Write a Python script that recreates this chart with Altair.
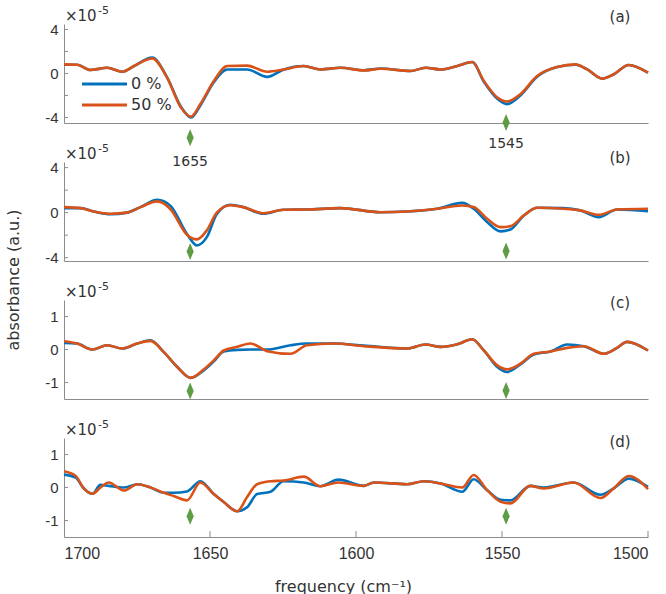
import altair as alt
import pandas as pd

# ---------------- data (absorbance in units of 1e-5) ----------------
x_a = [1700, 1695.5, 1691, 1685.2, 1680, 1676, 1669.8, 1664.7, 1660, 1656.5, 1653.3, 1648.7, 1644.1,
       1637.3, 1630.4, 1624.7, 1617.9, 1612.2, 1605.3, 1597.3, 1591.6, 1581.3, 1576.2, 1571, 1565.3,
       1560.2, 1556.2, 1551.6, 1548.2, 1543.7, 1538, 1531.1, 1524.8, 1520.8, 1515.7, 1511.7, 1506.6, 1500]
a_0 = [0.8, 0.8, 0.32, 0.52, 0.16, 0.68, 1.45, -0.35, -3.0, -4.0, -2.9, -0.8, 0.37, 0.37, -0.31, 0.37,
       0.68, 0.37, 0.52, 0.3, 0.45, 0.23, 0.52, 0.37, 0.68, 1.04, -0.75, -2.3, -2.78, -2.0, -0.3, 0.59,
       0.8, 0.37, -0.47, -0.07, 0.77, 0.07]
a_50 = [0.83, 0.8, 0.32, 0.52, 0.16, 0.68, 1.37, -0.38, -3.08, -3.92, -2.78, -0.68, 0.68, 0.72, 0.16,
        0.37, 0.68, 0.37, 0.52, 0.28, 0.43, 0.23, 0.52, 0.37, 0.68, 1.04, -0.68, -2.18, -2.54, -1.88,
        -0.23, 0.59, 0.83, 0.37, -0.47, -0.07, 0.77, 0.07]

x_b = [1700, 1694.3, 1689.8, 1684.1, 1678.4, 1673.8, 1668.1, 1663.5, 1657.9, 1654.5, 1651.1, 1647.7,
       1643.1, 1638.6, 1631.7, 1624.9, 1616.8, 1605.4, 1591.6, 1582.5, 1572.2, 1563.6, 1559.7, 1555.1,
       1550.5, 1547.1, 1542.5, 1538, 1528.9, 1523.2, 1516.9, 1510.6, 1500]
b_0 = [0.4, 0.4, 0.1, -0.15, 0.0, 0.49, 1.14, 0.6, -1.9, -2.92, -2.18, -0.15, 0.7, 0.49, -0.1, 0.25,
       0.28, 0.4, 0.04, 0.1, 0.34, 0.87, 0.34, -0.84, -1.67, -1.5, -0.25, 0.43, 0.4, 0.2, -0.4, 0.28, 0.13]
b_50 = [0.49, 0.4, 0.1, -0.1, 0.0, 0.49, 1.0, 0.3, -1.97, -2.38, -1.58, 0.0, 0.66, 0.49, -0.05, 0.25,
        0.28, 0.4, 0.04, 0.1, 0.34, 0.64, 0.49, -0.55, -1.29, -1.2, -0.25, 0.43, 0.34, 0.2, -0.2, 0.28, 0.34]

x_c = [1700, 1695.5, 1690.3, 1685.2, 1680.1, 1674.9, 1670.4, 1665.8, 1661.2, 1656.7, 1652.1, 1648.7,
       1645.3, 1640.7, 1636.1, 1630.4, 1622.4, 1616.8, 1607.6, 1597.3, 1582.5, 1576.2, 1571, 1565.3,
       1560.2, 1556.2, 1551.6, 1548.2, 1543.7, 1539.1, 1533.4, 1527.7, 1522, 1515.1, 1510.6, 1507.2, 1500]
c_0 = [0.2, 0.18, 0.0, 0.13, 0.03, 0.18, 0.28, -0.08, -0.53, -0.86, -0.63, -0.36, -0.06, -0.01, 0.0,
       0.0, 0.13, 0.18, 0.18, 0.12, 0.03, 0.15, 0.08, 0.16, 0.31, -0.03, -0.53, -0.68, -0.45, -0.15,
       -0.06, 0.15, 0.1, -0.13, 0.05, 0.23, -0.03]
c_50 = [0.25, 0.18, 0.0, 0.13, 0.03, 0.18, 0.26, -0.08, -0.53, -0.86, -0.6, -0.33, -0.03, 0.08, 0.18,
        -0.05, -0.13, 0.13, 0.18, 0.1, 0.03, 0.15, 0.08, 0.16, 0.31, -0.03, -0.48, -0.6, -0.43, -0.13,
        -0.06, 0.05, 0.1, -0.13, 0.05, 0.23, -0.03]

x_d = [1700, 1696, 1693.2, 1690.3, 1687.5, 1684.7, 1679.5, 1674.9, 1670.4, 1665.8, 1662.4, 1657.9,
       1653.3, 1648.8, 1645.3, 1640.7, 1637.3, 1633.9, 1629.3, 1624.8, 1617.9, 1612.2, 1606, 1597.3,
       1593.9, 1582.5, 1576.8, 1571, 1563.6, 1559.7, 1555.1, 1550.5, 1547.1, 1540.3, 1535.7, 1525.5,
       1516.3, 1511.8, 1506.6, 1500]
d_0 = [0.39, 0.3, -0.03, -0.19, 0.08, 0.05, 0.0, 0.1, 0.0, -0.16, -0.16, -0.12, 0.19, -0.19, -0.44,
       -0.72, -0.6, -0.2, -0.13, 0.19, 0.15, 0.04, 0.24, 0.05, 0.15, 0.1, 0.19, 0.12, -0.13, 0.25,
       -0.08, -0.37, -0.39, 0.05, 0.0, 0.15, -0.22, -0.03, 0.27, 0.02]
d_50 = [0.49, 0.35, -0.03, -0.19, 0.0, 0.15, -0.09, 0.1, 0.0, -0.16, -0.26, -0.39, 0.15, -0.19, -0.44,
        -0.72, -0.29, 0.1, 0.19, 0.21, 0.33, 0.04, 0.15, 0.05, 0.15, 0.1, 0.19, 0.12, 0.0, 0.38, -0.08,
        -0.43, -0.48, 0.05, -0.03, 0.15, -0.32, -0.03, 0.35, -0.05]

series = ["0 %", "50 %"]
colors = ["#0072BD", "#D95319"]
ticks_ab = [-4, -2, 0, 2, 4]
ticks_cd = [-1, 0, 1]
x_tick_labels = [1700, 1650, 1600, 1550, 1500]
x_tick_marks = [1650, 1600, 1550, 1500]
marker_freq = [1656.8, 1548.6]
marker_vals = [[-5.85, -4.45], [-3.45, -3.42], [-1.26, -1.24], [-0.87, -0.87]]
peak_labels = ["1655", "1545"]
peak_label_freq = [1656.8, 1548.6]
peak_label_vals = [-8.0, -6.45]
panel_tags = ["(a)", "(b)", "(c)", "(d)"]
tag_offsets = [-7, -4, 3, 4]
domains = [[-4.5, 4.5], [-4.3, 4.5], [-1.5, 1.5], [-1.5, 1.5]]

W, H = 584, 99
AX = "#8c8c8c"
TXT = "#333333"
FONT = "DejaVu Sans"
LFONT = "Liberation Sans"
GREEN = "#5f9c46"
DIAMOND = "M0,-1L0.42,0L0,1L-0.42,0Z"
LEG_ROWS = [60, 81]


def make_panel(i, xs, v0, v50, yvals, first=False, last=False):
    xscale = alt.Scale(domain=[1500, 1700], reverse=True, nice=False, zero=False)
    yscale = alt.Scale(domain=domains[i], nice=False, zero=False)
    if last:
        xaxis = alt.Axis(values=x_tick_labels, ticks=False, tickSize=0, labelPadding=8,
                         labelFontSize=16, labelExpr="'' + datum.value",
                         title="frequency (cm⁻¹)", titleFontSize=16,
                         titleFont=FONT, titleColor=TXT, titleFontWeight="normal",
                         titleX=279, titleY=54, titleBaseline="alphabetic", grid=False)
    else:
        xaxis = alt.Axis(labels=False, ticks=False, tickSize=0, title=None, grid=False)
    yaxis = alt.Axis(values=yvals, ticks=False, tickSize=0, labelPadding=6, labelFontSize=15,
                     title=None, grid=False, labelExpr="'' + datum.value")
    cscale = alt.Scale(domain=series, range=colors)

    layers = []
    for name, vals in zip(series, [v0, v50]):
        df = pd.DataFrame({"f": xs, "v": vals, "s": name})
        layers.append(
            alt.Chart(df).mark_line(strokeWidth=2.6, interpolate="monotone").encode(
                x=alt.X("f:Q", scale=xscale, axis=xaxis),
                y=alt.Y("v:Q", scale=yscale, axis=yaxis),
                color=alt.Color("s:N", scale=cscale, legend=None),
            )
        )
    layers.append(
        alt.Chart(pd.DataFrame({"v": yvals})).mark_rule(color=AX, strokeWidth=1).encode(
            y=alt.Y("v:Q", scale=yscale), x=alt.value(0), x2=alt.value(4)
        )
    )
    if last:
        layers.append(
            alt.Chart(pd.DataFrame({"f": x_tick_marks})).mark_rule(color=AX, strokeWidth=1).encode(
                x=alt.X("f:Q", scale=xscale), y=alt.value(H), y2=alt.value(H - 6)
            )
        )
    layers.append(
        alt.Chart(pd.DataFrame({"f": marker_freq, "v": marker_vals[i]})).mark_point(
            shape=DIAMOND, filled=True, size=289, color=GREEN, opacity=1
        ).encode(x=alt.X("f:Q", scale=xscale), y=alt.Y("v:Q", scale=yscale))
    )
    one = pd.DataFrame({"k": [0]})
    layers.append(
        alt.Chart(one).mark_text(text="×10", align="left", baseline="alphabetic", fontSize=15,
                                 font=FONT, color=TXT).encode(x=alt.value(1), y=alt.value(-3))
    )
    layers.append(
        alt.Chart(one).mark_text(text="-5", align="left", baseline="alphabetic", fontSize=11,
                                 font=FONT, color=TXT).encode(x=alt.value(34), y=alt.value(-10))
    )
    layers.append(
        alt.Chart(one).mark_text(text=panel_tags[i], align="center", baseline="middle", fontSize=15,
                                 font=FONT, color=TXT).encode(x=alt.value(556), y=alt.value(tag_offsets[i]))
    )
    if first:
        layers.append(
            alt.Chart(pd.DataFrame({"f": peak_label_freq, "v": peak_label_vals, "t": peak_labels}))
            .mark_text(align="center", baseline="middle", fontSize=14, font=FONT, color=TXT)
            .encode(x=alt.X("f:Q", scale=xscale), y=alt.Y("v:Q", scale=yscale), text="t:N")
        )
        # legend (drawn inside panel a)
        for k, name in enumerate(series):
            ldf = pd.DataFrame({"s": [name]})
            layers.append(
                alt.Chart(ldf).mark_rule(strokeWidth=3, color=colors[k]).encode(
                    x=alt.value(18), x2=alt.value(63), y=alt.value(LEG_ROWS[k])
                )
            )
            layers.append(
                alt.Chart(ldf).mark_text(align="left", baseline="middle", fontSize=16, font=FONT,
                                         color=TXT).encode(
                    x=alt.value(67), y=alt.value(LEG_ROWS[k]), text="s:N"
                )
            )
    if i == 1:
        layers.append(
            alt.Chart(one).mark_text(text="absorbance (a.u.)", align="center", baseline="middle",
                                     angle=270, fontSize=16, font=FONT, color=TXT)
            .encode(x=alt.value(-50), y=alt.value(118))
        )
    return alt.layer(*layers).properties(width=W, height=H)


pa = make_panel(0, x_a, a_0, a_50, ticks_ab, first=True)
pb = make_panel(1, x_b, b_0, b_50, ticks_ab)
pc = make_panel(2, x_c, c_0, c_50, ticks_cd)
pd_ = make_panel(3, x_d, d_0, d_50, ticks_cd, last=True)

chart = (
    alt.vconcat(pa, pb, pc, pd_, spacing=39, bounds="flush")
    .properties(padding={"left": 6, "top": 5, "right": 3, "bottom": 3}, background="white")
    .configure_view(stroke=None)
    .configure_axis(domainColor=AX, domainWidth=1, labelColor=TXT, labelFont=LFONT)
)

chart.save("out.html", embed_options={"renderer": "svg", "actions": False})
